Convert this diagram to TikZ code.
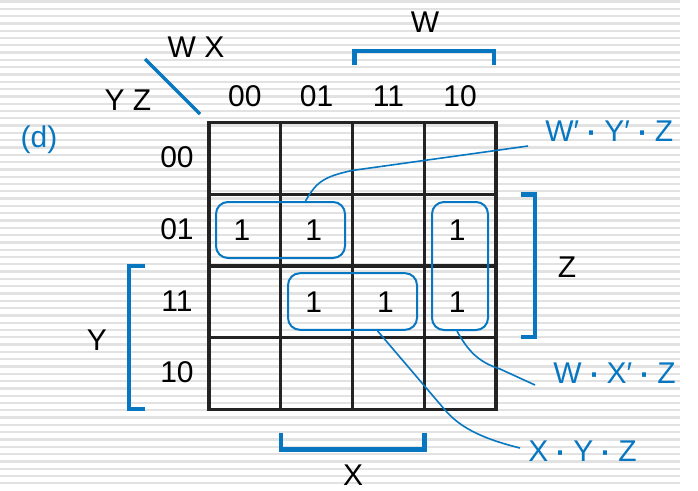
\documentclass[tikz,border=0pt]{standalone}
\usepackage{fontspec}
\setmainfont{Liberation Sans}
\usetikzlibrary{calc}
\definecolor{kblue}{RGB}{8,119,193}
\definecolor{stripegray}{RGB}{226,226,226}
\definecolor{gridgray}{RGB}{35,35,35}
% product dot, a bit heavier than the plain middle dot
\newcommand{\pdot}{\makebox[0.28em][c]{\raisebox{-0.09em}{\scalebox{1.4}{·}}}}
\begin{document}
\begin{tikzpicture}[x=0.75pt,y=-0.75pt,
  txt/.style={font=\fontsize{22.5}{27}\selectfont,inner sep=0pt},
  btxt/.style={txt,text=kblue},
  kgroup/.style={draw=kblue,line width=1.5pt,rounded corners=9pt,inner sep=0pt},
  brk/.style={draw=kblue,line width=3.3pt},
  lead/.style={draw=kblue,line width=1.2pt},
  gridline/.style={draw=gridgray,line width=2.4pt,line cap=rect}]
\def\c{71.75}
\def\gx{209}
\def\gy{122.5}
\useasboundingbox (0,0) rectangle (698,490);
\fill[white] (0,0) rectangle (698,490);
% striped backdrop
\foreach \y in {1.5,8.8,...,485}
  \draw[stripegray,line width=1.7pt] (0,\y) -- (680,\y);
% the map
\foreach \i in {0,...,4}{
  \draw[gridline] ({\gx+\i*\c},\gy) -- ({\gx+\i*\c},{\gy+4*\c});
  \draw[gridline] (\gx,{\gy+\i*\c}) -- ({\gx+4*\c},{\gy+\i*\c});
}
\foreach \t [count=\i from 0] in {00,01,11,10}{
  \node[txt] (col\t) at ({\gx+(\i+0.5)*\c},96) {\t};
  \node[txt] (row\t) at (177,{\gy+(\i+0.5)*\c-1}) {\t};
}
\draw[kblue,line width=2.6pt] (145,59) -- (200,114);
\node[txt] (wx) at (196,47) {W X};
\node[txt] (yz) at (128,100) {Y Z};
\node[btxt] (part) at (39,140) {(d)};
% minterms
\def\one#1#2#3{\node[txt] (#1) at ({\gx+(#2+0.5)*\c-3},{\gy+(#3+0.5)*\c}) {1};}
\one{m1}{0}{1}
\one{m5}{1}{1}
\one{m9}{3}{1}
\one{m7}{1}{2}
\one{m15}{2}{2}
\one{m11}{3}{2}
% groups
\node[kgroup,minimum width=96.75pt,minimum height=42pt] (gA) at (280.5,230) {};
\node[kgroup,minimum width=96.75pt,minimum height=42.5pt] (gB) at (352.5,301.5) {};
\node[kgroup,minimum width=42pt,minimum height=96pt] (gC) at (460,266) {};
% variable brackets
\draw[brk] (354.5,65) -- (354.5,51) -- (494,51) -- (494,65);
\node[txt] (lw) at (425,22) {W};
\draw[brk] (521,194.5) -- (535,194.5) -- (535,337) -- (521,337);
\node[txt] (lz) at (567,267) {Z};
\draw[brk] (281,433) -- (281,449.5) -- (424.5,449.5) -- (424.5,433);
\node[txt] (lx) at (353,475) {X};
\draw[brk] (145,266) -- (129,266) -- (129,409) -- (145,409);
\node[txt] (ly) at (97,340) {Y};
% terms and leaders
\node[btxt,anchor=west] (tA) at (545,133) {W′ \pdot{} Y′ \pdot{} Z};
\node[btxt,anchor=west] (tC) at (553,375) {W \pdot{} X′ \pdot{} Z};
\node[btxt,anchor=west] (tB) at (528,453) {X \pdot{} Y \pdot{} Z};
\coordinate (endA) at ($(tA.west)+(-17,13)$);
\coordinate (endC) at ($(tC.west)+(-18,10)$);
\coordinate (endB) at ($(tB.west)+(-8,-5)$);
\draw[lead] ($(gA.north)+(25,0)$) .. controls (316,183) and (322,177) .. (352,170.5) -- (endA);
\draw[lead] ($(gC.south)+(-3,0)$) .. controls (470,355) and (482,363) .. (500,369) -- (endC);
\draw[lead] ($(gB.south)+(25,0)$) -- (445,410) .. controls (462,430) and (488,440) .. (endB);
\end{tikzpicture}
\end{document}
